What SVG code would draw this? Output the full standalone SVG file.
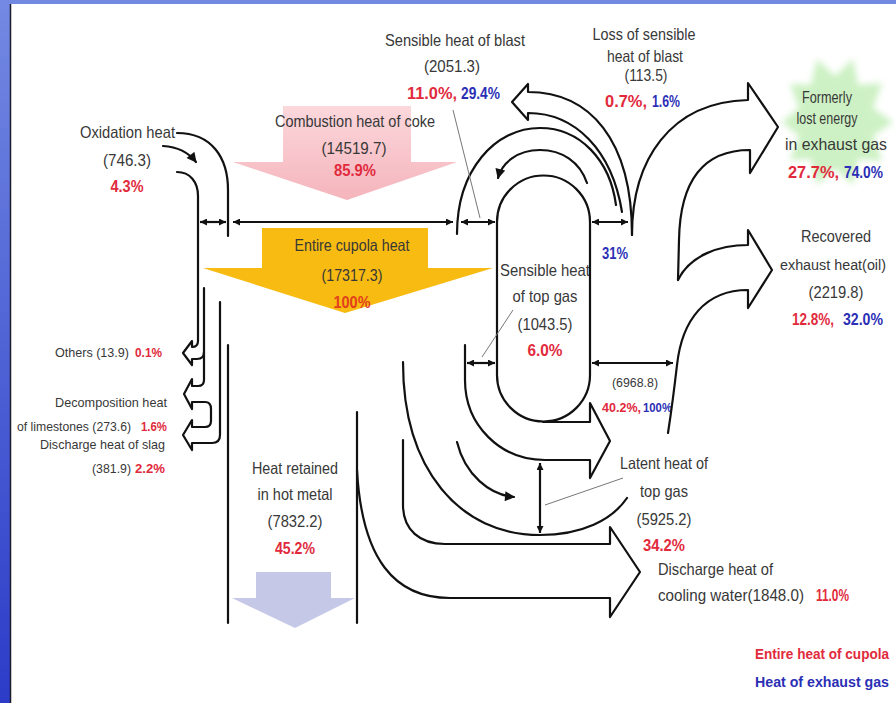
<svg xmlns="http://www.w3.org/2000/svg" width="896" height="703" viewBox="0 0 896 703">
<defs>
<style>
.ln{fill:none;stroke:#111;stroke-width:2.2;stroke-linejoin:round;stroke-linecap:round}
.dim{fill:none;stroke:#111;stroke-width:2.2;marker-start:url(#ah);marker-end:url(#ah)}
.ld{fill:none;stroke:#777;stroke-width:1}
.t{font-family:"Liberation Sans",Arial,sans-serif;font-size:16.5px;fill:#383838}
.s{font-size:13.5px}
.m{text-anchor:middle}
.r{fill:#e12a3c;font-weight:bold}
.b{fill:#2b2fb5;font-weight:bold}
.lg{font-size:14px}
.nr{font-size:15.5px}
</style>
<marker id="ah" viewBox="0 0 10 10" refX="10" refY="5" markerWidth="8" markerHeight="7" markerUnits="userSpaceOnUse" orient="auto-start-reverse"><path d="M0,0L10,5L0,10z" fill="#111"/></marker>
<marker id="ahb" viewBox="0 0 10 10" refX="9" refY="5" markerWidth="11" markerHeight="10" markerUnits="userSpaceOnUse" orient="auto"><path d="M0,0L10,5L0,10z" fill="#111"/></marker>
<linearGradient id="side" x1="0" y1="0" x2="0" y2="1"><stop offset="0" stop-color="#7389e2"/><stop offset="1" stop-color="#2c3cc8"/></linearGradient>
<linearGradient id="pink" x1="0" y1="0" x2="0" y2="1"><stop offset="0" stop-color="#fbd8dc"/><stop offset="1" stop-color="#f5b4bc"/></linearGradient>
<filter id="soft" x="-20%" y="-20%" width="140%" height="140%"><feGaussianBlur stdDeviation="3"/></filter>
</defs>

<rect width="896" height="703" fill="#fff"/>
<rect x="0" y="0" width="896" height="4" fill="#7289e2"/>
<rect x="0" y="0" width="10" height="703" fill="url(#side)"/>
<line x1="10.5" y1="4" x2="10.5" y2="703" stroke="#1c1c2c" stroke-width="1.5"/>

<g id="coke">
<polygon points="283,106 411,106 411,162 457,162 347,200 233,162 283,162" fill="url(#pink)"/>
<text class="t m" x="355" y="127" textLength="160" lengthAdjust="spacingAndGlyphs">Combustion heat of coke</text>
<text class="t m" x="354" y="154" textLength="65" lengthAdjust="spacingAndGlyphs">(14519.7)</text>
<text class="t m r" x="355" y="176" textLength="42" lengthAdjust="spacingAndGlyphs">85.9%</text>
</g>

<g id="cupola">
<polygon points="262,228 428,228 428,268 493,268 345,313 203,268 262,268" fill="#f7bb12"/>
<text class="t m" x="352" y="251" textLength="115" lengthAdjust="spacingAndGlyphs">Entire cupola heat</text>
<text class="t m" x="352" y="281" textLength="61" lengthAdjust="spacingAndGlyphs">(17317.3)</text>
<text class="t m" x="352" y="308" style="fill:#e2401c;font-weight:bold" textLength="37" lengthAdjust="spacingAndGlyphs">100%</text>
</g>

<g id="hotmetal">
<polygon points="256,572 331,572 331,598 355,598 295,628 232,598 256,598" fill="#c6c8e7"/>
<text class="t m" x="295" y="474" textLength="86" lengthAdjust="spacingAndGlyphs">Heat retained</text>
<text class="t m" x="295" y="500" textLength="75" lengthAdjust="spacingAndGlyphs">in hot metal</text>
<text class="t m" x="295" y="527" textLength="55" lengthAdjust="spacingAndGlyphs">(7832.2)</text>
<text class="t m r" x="295" y="554" textLength="40" lengthAdjust="spacingAndGlyphs">45.2%</text>
</g>

<g id="formerly">
<polygon points="893,122 873,136 882,161 858,159 853,185 835,168 817,185 811,159 790,160 799,136 782,122 799,108 790,84 811,85 817,59 835,76 853,59 858,85 882,83 873,108" fill="#cdf1c4" filter="url(#soft)"/>
<text class="t m" x="827" y="103" textLength="50" lengthAdjust="spacingAndGlyphs">Formerly</text>
<text class="t m" x="827" y="124" textLength="61" lengthAdjust="spacingAndGlyphs">lost energy</text>
<text class="t m" x="836" y="150" textLength="102" lengthAdjust="spacingAndGlyphs">in exhaust gas</text>
<text class="t r" x="788" y="178" textLength="51" lengthAdjust="spacingAndGlyphs">27.7%,</text>
<text class="t b" x="844" y="178" textLength="39" lengthAdjust="spacingAndGlyphs">74.0%</text>
</g>

<g id="recovered">
<text class="t m" x="836" y="242" textLength="70" lengthAdjust="spacingAndGlyphs">Recovered</text>
<text class="t nr m" x="833" y="270" textLength="106" lengthAdjust="spacingAndGlyphs">exhaust heat(oil)</text>
<text class="t m" x="836" y="298" textLength="55" lengthAdjust="spacingAndGlyphs">(2219.8)</text>
<text class="t r" x="792" y="325" textLength="42" lengthAdjust="spacingAndGlyphs">12.8%,</text>
<text class="t b" x="843" y="325" textLength="40" lengthAdjust="spacingAndGlyphs">32.0%</text>
</g>

<g id="oxidation">
<text class="t" x="80" y="138" textLength="95" lengthAdjust="spacingAndGlyphs">Oxidation heat</text>
<text class="t m" x="127" y="166" textLength="48" lengthAdjust="spacingAndGlyphs">(746.3)</text>
<text class="t m r" x="127" y="192" textLength="33" lengthAdjust="spacingAndGlyphs">4.3%</text>
</g>

<g id="blast">
<text class="t m" x="455" y="46" textLength="140" lengthAdjust="spacingAndGlyphs">Sensible heat of blast</text>
<text class="t m" x="452" y="72" textLength="56" lengthAdjust="spacingAndGlyphs">(2051.3)</text>
<text class="t r" x="407" y="99" textLength="50" lengthAdjust="spacingAndGlyphs">11.0%,</text>
<text class="t b" x="461" y="99" textLength="39" lengthAdjust="spacingAndGlyphs">29.4%</text>
</g>

<g id="blastloss">
<text class="t m" x="644" y="40" textLength="103" lengthAdjust="spacingAndGlyphs">Loss of sensible</text>
<text class="t m" x="645" y="62" textLength="76" lengthAdjust="spacingAndGlyphs">heat of blast</text>
<text class="t m" x="646" y="81" textLength="43" lengthAdjust="spacingAndGlyphs">(113.5)</text>
<text class="t r" x="605" y="107" textLength="42" lengthAdjust="spacingAndGlyphs">0.7%,</text>
<text class="t b" x="652" y="107" textLength="28" lengthAdjust="spacingAndGlyphs">1.6%</text>
<text class="t b" x="602" y="259" textLength="26" lengthAdjust="spacingAndGlyphs">31%</text>
</g>

<g id="topgas">
<text class="t m" x="545" y="276" textLength="90" lengthAdjust="spacingAndGlyphs">Sensible heat</text>
<text class="t m" x="545" y="302" textLength="65" lengthAdjust="spacingAndGlyphs">of top gas</text>
<text class="t m" x="545" y="330" textLength="55" lengthAdjust="spacingAndGlyphs">(1043.5)</text>
<text class="t m r" x="545" y="356" textLength="35" lengthAdjust="spacingAndGlyphs">6.0%</text>
</g>

<g id="exhaust">
<text class="t s m" x="635" y="387" textLength="46" lengthAdjust="spacingAndGlyphs">(6968.8)</text>
<text class="t s r" x="602" y="412" textLength="39" lengthAdjust="spacingAndGlyphs">40.2%,</text>
<text class="t s b" x="643" y="412" textLength="29" lengthAdjust="spacingAndGlyphs">100%</text>
</g>

<g id="latent">
<text class="t m" x="664" y="469" textLength="88" lengthAdjust="spacingAndGlyphs">Latent heat of</text>
<text class="t m" x="664" y="497" textLength="48" lengthAdjust="spacingAndGlyphs">top gas</text>
<text class="t m" x="664" y="525" textLength="55" lengthAdjust="spacingAndGlyphs">(5925.2)</text>
<text class="t r" x="643" y="551" textLength="42" lengthAdjust="spacingAndGlyphs">34.2%</text>
</g>

<g id="cooling">
<text class="t" x="658" y="575" textLength="115" lengthAdjust="spacingAndGlyphs">Discharge heat of</text>
<text class="t" x="658" y="601" textLength="146" lengthAdjust="spacingAndGlyphs">cooling water(1848.0)</text>
<text class="t r" x="816" y="601" textLength="33" lengthAdjust="spacingAndGlyphs">11.0%</text>
</g>

<g id="losses-left">
<text class="t s" x="55" y="357" textLength="74" lengthAdjust="spacingAndGlyphs">Others (13.9)</text>
<text class="t s r" x="135" y="357" textLength="27" lengthAdjust="spacingAndGlyphs">0.1%</text>
<text class="t s" x="55" y="407" textLength="112" lengthAdjust="spacingAndGlyphs">Decomposition heat</text>
<text class="t s" x="17" y="431" textLength="114" lengthAdjust="spacingAndGlyphs">of limestones (273.6)</text>
<text class="t s r" x="141" y="431" textLength="26" lengthAdjust="spacingAndGlyphs">1.6%</text>
<text class="t s" x="40" y="449" textLength="125" lengthAdjust="spacingAndGlyphs">Discharge heat of slag</text>
<text class="t s" x="92" y="473" textLength="39" lengthAdjust="spacingAndGlyphs">(381.9)</text>
<text class="t s r" x="135" y="473" textLength="30" lengthAdjust="spacingAndGlyphs">2.2%</text>
</g>

<g id="legend">
<text class="t lg r" x="755" y="659" textLength="134" lengthAdjust="spacingAndGlyphs">Entire heat of cupola</text>
<text class="t lg b" x="755" y="687" textLength="134" lengthAdjust="spacingAndGlyphs">Heat of exhaust gas</text>
</g>

<g id="connectors">
<path class="ln" d="M177,133 C212,133 228,158 228,190 L228,236"/>
<path class="ln" d="M163,146 C178,147 189,153 196,162" marker-end="url(#ahb)"/>
<path class="ln" d="M177,172 C190,172 198,182 198,196 L198,341 Q198,347 192,347 L192,341 L183,353 L192,365 L192,359 L197,359 Q204,359 204,352"/>
<path class="ln" d="M204,288 L204,380 Q204,386 198,386 L192,386 L192,379 L184,394 L192,409 L192,402 L205,402 Q211,402 211,409 L211,421 Q211,427 205,427 L192,427 L192,420 L183,435 L192,450 L192,443 L212,443 Q220,443 220,435 L220,302"/>
<path class="ln" d="M228,345 L228,623"/>
<path class="ln" d="M357,412 L357,623"/>
<path class="dim" d="M200,222 L226,222"/>
<path class="dim" d="M233,222 L453,222"/>
<path class="dim" d="M461,222 L495,222"/>
<path class="dim" d="M592,222 L628,222"/>
<path class="ln" d="M457,234 C457,170 495,128 540,128 C580,128 610,160 616,205"/>
<path class="ln" d="M587,183 C580,162 562,150 540,150 C517,150 502,163 498,178" marker-end="url(#ahb)"/>
<path class="ln" d="M497,222 A46.5,46.5 0 0 1 590,222 L590,375 A46.5,46.5 0 0 1 497,375 Z"/>
<path class="ln" d="M622,212 C612,150 575,113 528,113 L528,120 L512,102 L528,84 L528,92 C590,92 632,140 632,235"/>
<path class="ln" d="M632,235 C632,160 670,102 748,100 L748,83 L778,127 L750,173 L750,150 C700,150 680,185 679,240 L678,280"/>
<path class="ln" d="M678,280 C690,255 720,245 748,245 L748,230 L772,270 L748,308 L748,290 C705,290 682,320 677,365 C673,400 670,420 668,433"/>
<path class="ln" d="M543,422 L590,422 L590,403 L610,441 L590,478 L590,460 L545,460 C500,460 465,425 465,380 L465,345"/>
<path class="dim" d="M467,363 L495,363"/>
<path class="dim" d="M592,363 L673,363"/>
<path class="ln" d="M457,442 C465,475 490,495 514,497" marker-end="url(#ahb)"/>
<path class="ln" d="M403,362 C403,470 460,535 540,535 C582,535 612,520 627,498"/>
<path class="dim" d="M540,463 L540,533"/>
<path class="ln" d="M403,440 L403,505 C403,530 420,544 445,544 L610,544 L610,527 L640,572 L610,617 L610,598 L450,598 C395,598 362,560 357,470"/>
<path class="ld" d="M453,110 L480,218"/>
<path class="ld" d="M513,310 L482,357"/>
<path class="ld" d="M623,478 L545,505"/>
</g>
</svg>
